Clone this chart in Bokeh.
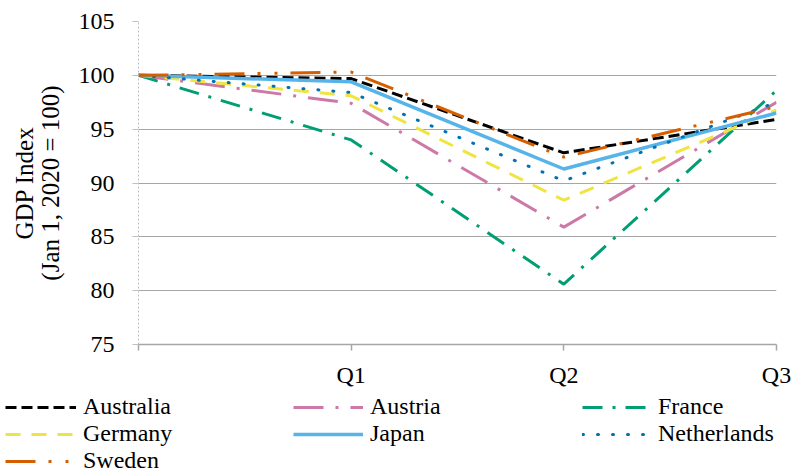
from bokeh.plotting import figure
from bokeh.models import FixedTicker, Legend, LegendItem, Range1d, LinearAxis
from bokeh.layouts import column
from bokeh.embed import file_html
from bokeh.resources import INLINE

# ---- data ----
quarter_pos = [0, 1, 2, 3]
quarter_labels = ["", "Q1", "Q2", "Q3"]
y_ticks = [75, 80, 85, 90, 95, 100, 105]

australia = [100, 99.7, 92.8, 95.9]
austria = [100, 97.4, 85.9, 97.5]
france = [100, 94.0, 80.6, 98.6]
germany = [100, 98.1, 88.4, 96.8]
japan = [100, 99.4, 91.3, 96.5]
netherlands = [100, 98.4, 90.2, 97.5]
sweden = [100, 100.3, 92.4, 97.1]

names = ["Australia", "Austria", "France", "Germany", "Japan", "Netherlands", "Sweden"]
values = [australia, austria, france, germany, japan, netherlands, sweden]

# ---- styles ----
colors = ["#000000", "#CC79A7", "#009E73", "#F0E442", "#56B4E9", "#0072B2", "#D55E00"]
dashes = ["11 5", "30 12 3 12", "20 10 3 10", "15 11", "solid", "1 14", "30 13 3 14 3 13"]
caps = ["butt", "butt", "butt", "butt", "butt", "round", "butt"]
widths = [3, 3, 3, 3, 3.5, 3, 3]

FONT = "Liberation Serif"
W = 795
H1 = 392
H2 = 474 - H1

p = figure(width=W, height=H1, x_range=Range1d(0, 3), y_range=Range1d(75, 105),
           output_backend="svg", toolbar_location=None,
           min_border_left=138, min_border_right=19, min_border_top=21,
           min_border_bottom=H1 - 344)
p.outline_line_color = None
p.frame_align = False

# x axis
p.xaxis.ticker = FixedTicker(ticks=quarter_pos)
p.xaxis.major_label_overrides = {pos: lbl for pos, lbl in zip(quarter_pos, quarter_labels)}
p.xaxis.axis_line_color = "#a6a6a6"
p.xaxis.axis_line_width = 1.5
p.xaxis.major_tick_line_color = "#a6a6a6"
p.xaxis.major_tick_line_width = 1.5
p.xaxis.major_tick_in = 0
p.xaxis.major_tick_out = 6
p.xaxis.minor_tick_line_color = None
p.xaxis.major_label_text_font = FONT
p.xaxis.major_label_text_font_size = "24px"
p.xaxis.major_label_text_color = "black"
p.xaxis.major_label_standoff = 11

# y axis
p.yaxis.ticker = FixedTicker(ticks=y_ticks)
p.yaxis.axis_line_color = "#bfbfbf"
p.yaxis.axis_line_dash = "2 2"
p.yaxis.axis_line_width = 1
p.yaxis.major_tick_line_color = "#bfbfbf"
p.yaxis.major_tick_in = 0
p.yaxis.major_tick_out = 6
p.yaxis.minor_tick_line_color = None
p.yaxis.major_label_text_font = FONT
p.yaxis.major_label_text_font_size = "24px"
p.yaxis.major_label_text_color = "black"
p.yaxis.major_label_standoff = 18
p.yaxis.axis_label = "(Jan 1, 2020 = 100)"
p.yaxis.axis_label_text_font = FONT
p.yaxis.axis_label_text_font_size = "25px"
p.yaxis.axis_label_text_font_style = "normal"
p.yaxis.axis_label_text_color = "black"
p.yaxis.axis_label_standoff = 12

# first line of the y title, as an outer axis without ticks
outer = LinearAxis(ticker=FixedTicker(ticks=[]), axis_line_color=None,
                   major_tick_line_color=None, minor_tick_line_color=None,
                   major_tick_out=0, major_label_standoff=0,
                   axis_label="GDP Index", axis_label_text_font=FONT,
                   axis_label_text_font_size="25px", axis_label_text_font_style="normal",
                   axis_label_text_color="black", axis_label_standoff=-4)
p.add_layout(outer, "left")

p.xgrid.visible = False
p.ygrid.ticker = FixedTicker(ticks=y_ticks)
p.ygrid.grid_line_color = "#a6a6a6"
p.ygrid.grid_line_width = 1.2

for name, vals, c, d, cap, w in zip(names, values, colors, dashes, caps, widths):
    p.line(quarter_pos, vals, line_color=c, line_width=w, line_dash=d, line_cap=cap)

# ---- legend strip (separate figure, full width, frame not aligned) ----
lg = figure(width=W, height=H2, x_range=Range1d(0, W), y_range=Range1d(0, H2),
            output_backend="svg", toolbar_location=None,
            x_axis_type=None, y_axis_type=None, min_border=0)
lg.outline_line_color = None
lg.frame_align = False
lg.xgrid.visible = False
lg.ygrid.visible = False

# swatch renderers (placed outside the visible range; only used for legend glyphs)
swatches = []
for name, c, d, cap, w in zip(names, colors, dashes, caps, widths):
    r = lg.line(x=[-100, -90], y=[-100, -100], line_color=c, line_width=w,
                line_dash=d, line_cap=cap)
    swatches.append(r)

col_x = [5, 293, 582]
col_gw = [71, 70, 68]
col_so = [7, 7, 8]
row_center = [407 - H1, 434 - H1, 461 - H1]
item_h = 26
for k in range(len(names)):
    row, col = divmod(k, 3)
    leg = Legend(items=[LegendItem(label=names[k], renderers=[swatches[k]])],
                 location=(col_x[col], H2 - row_center[row] - item_h // 2),
                 orientation="vertical", padding=0, margin=0, spacing=0,
                 border_line_color=None, background_fill_alpha=0,
                 glyph_width=col_gw[col], glyph_height=item_h, label_height=item_h,
                 label_standoff=col_so[col], label_text_font=FONT,
                 label_text_font_size="24px", label_text_color="black",
                 label_text_baseline="middle")
    lg.add_layout(leg, "center")

layout = column(p, lg, spacing=0)
open("out.html", "w").write(file_html(layout, INLINE))
